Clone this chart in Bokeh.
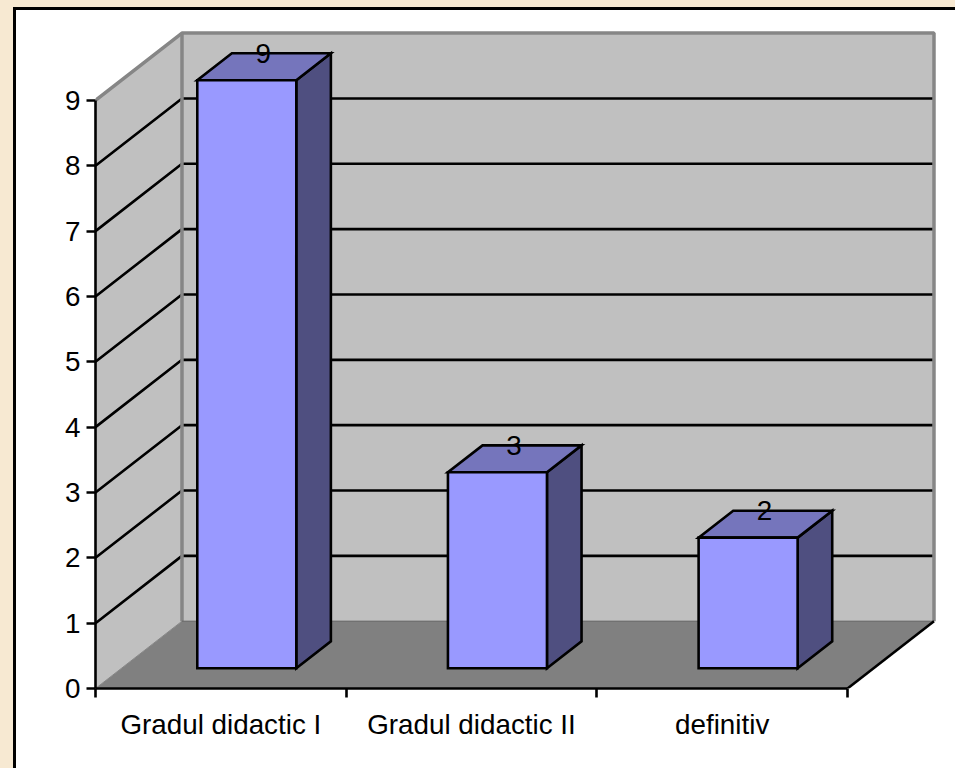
from bokeh.plotting import figure
from bokeh.models import Range1d, FixedTicker
from bokeh.core.properties import value
from bokeh.embed import file_html
from bokeh.resources import INLINE

CATEGORIES = ["Gradul didactic I", "Gradul didactic II", "definitiv"]
VALUES = [9, 3, 2]
Y_TICKS = [0, 1, 2, 3, 4, 5, 6, 7, 8, 9]
X_EDGES = [0, 1, 2, 3]

# oblique projection: one unit of depth, expressed in data units
DEPTH_X = 0.345
DEPTH_Y = 1.03
BAR_WIDTH = 0.395
BAR_D0 = 0.30
BAR_D1 = 0.70
X_MAX = 3
Y_MAX = 9

WALL = "#C0C0C0"
WALL_EDGE = "#868686"
FLOOR = "#808080"
FRONT = "#9999FF"
TOP = "#7575BC"
SIDE = "#4F4F80"
CREAM = "#F7E9D2"
FONT = "Liberation Sans"
FS = "27.8px"
LW = 2.6


def pr(x, v, d):
    return x + d * DEPTH_X, v + d * DEPTH_Y


def poly(points):
    pts = [pr(*q) for q in points]
    return [a for a, _ in pts], [b for _, b in pts]


p = figure(
    width=955, height=768, output_backend="svg", toolbar_location=None,
    x_range=Range1d(0, 3.359), y_range=Range1d(0, 10.07),
    min_border_left=95, min_border_right=18, min_border_top=30, min_border_bottom=80,
    background_fill_color=None, border_fill_color=None, outline_line_color=None,
)
p.grid.visible = False

# walls
for pts in ([(0, 0, 0), (0, 0, 1), (0, Y_MAX, 1), (0, Y_MAX, 0)],
            [(0, 0, 1), (X_MAX, 0, 1), (X_MAX, Y_MAX, 1), (0, Y_MAX, 1)]):
    xs, ys = poly(pts)
    p.patch(xs, ys, fill_color=WALL, line_color=None)

# gridlines on both walls
for v in Y_TICKS[1:-1]:
    xs, ys = poly([(0, v, 0), (0, v, 1), (X_MAX, v, 1)])
    p.line(xs, ys, line_color="black", line_width=LW)

# wall edges
xs, ys = poly([(0, Y_MAX, 0), (0, Y_MAX, 1), (X_MAX, Y_MAX, 1), (X_MAX, 0, 1)])
p.line(xs, ys, line_color=WALL_EDGE, line_width=3.5)
xs, ys = poly([(0, 0, 1), (0, Y_MAX, 1)])
p.line(xs, ys, line_color=WALL_EDGE, line_width=3.5)

# floor
xs, ys = poly([(0, 0, 0), (X_MAX, 0, 0), (X_MAX, 0, 1), (0, 0, 1)])
p.patch(xs, ys, fill_color=FLOOR, line_color=None)
xs, ys = poly([(0, 0, 1), (X_MAX, 0, 1)])
p.line(xs, ys, line_color="#5F5F5F", line_width=1)
xs, ys = poly([(X_MAX, 0, 0), (X_MAX, 0, 1)])
p.line(xs, ys, line_color="black", line_width=LW)
xs, ys = poly([(0, 0, 0), (0, 0, 1)])
p.line(xs, ys, line_color=WALL_EDGE, line_width=1)

# bars
edge = dict(line_color="black", line_width=LW, line_join="miter")
for i, val in enumerate(VALUES):
    x0 = i + 0.5 - BAR_WIDTH / 2
    x1 = i + 0.5 + BAR_WIDTH / 2
    xs, ys = poly([(x1, 0, BAR_D0), (x1, 0, BAR_D1), (x1, val, BAR_D1), (x1, val, BAR_D0)])
    p.patch(xs, ys, fill_color=SIDE, **edge)
    xs, ys = poly([(x0, val, BAR_D0), (x1, val, BAR_D0), (x1, val, BAR_D1), (x0, val, BAR_D1)])
    p.patch(xs, ys, fill_color=TOP, **edge)
    xs, ys = poly([(x0, 0, BAR_D0), (x1, 0, BAR_D0), (x1, val, BAR_D0), (x0, val, BAR_D0)])
    p.patch(xs, ys, fill_color=FRONT, **edge)
    lx, _ = pr(i + 0.5, val, BAR_D0 + 0.19)
    _, ly = pr(i + 0.5, val, BAR_D1)
    p.text([lx], [ly], text=[str(val)], text_font=value(FONT), text_font_size=FS,
           text_color="black", text_align="center", text_baseline="middle")

# axes
yax = p.yaxis[0]
yax.ticker = FixedTicker(ticks=Y_TICKS)
yax.bounds = (0, Y_MAX)
yax.axis_line_color = "black"
yax.axis_line_width = LW
yax.major_tick_line_color = "black"
yax.major_tick_line_width = LW
yax.major_tick_in = 0
yax.major_tick_out = 9
yax.minor_tick_line_color = None
yax.major_label_text_font = FONT
yax.major_label_text_font_size = FS
yax.major_label_text_color = "black"
yax.major_label_standoff = 6

centers = [i + 0.5 for i in range(len(CATEGORIES))]
xax = p.xaxis[0]
xax.ticker = FixedTicker(ticks=centers, minor_ticks=X_EDGES)
xax.major_label_overrides = dict(zip(centers, CATEGORIES))
xax.bounds = (0, X_MAX)
xax.axis_line_color = "black"
xax.axis_line_width = LW
xax.major_tick_line_color = None
xax.major_tick_in = 0
xax.major_tick_out = 0
xax.minor_tick_line_color = "black"
xax.minor_tick_line_width = LW
xax.minor_tick_in = 0
xax.minor_tick_out = 9
xax.major_label_text_font = FONT
xax.major_label_text_font_size = FS
xax.major_label_text_color = "black"
xax.major_label_standoff = 11
xax.major_label_orientation = "horizontal"

# page surround: cream frame with a black rule, behind the transparent figure
c = f"linear-gradient({CREAM},{CREAM})"
k = "linear-gradient(#000,#000)"
bg = (f"{k} 13px 7px/100% 3px no-repeat,"
      f"{k} 13px 7px/3px 100% no-repeat,"
      f"{c} 0 0/100% 7px no-repeat,"
      f"{c} 0 0/13px 100% no-repeat,#fff")
style = f"<style>html{{background:{bg};overflow:hidden}}body{{background:transparent}}</style>"

html = file_html(p, INLINE).replace("</head>", style + "</head>", 1)
open("out.html", "w").write(html)
